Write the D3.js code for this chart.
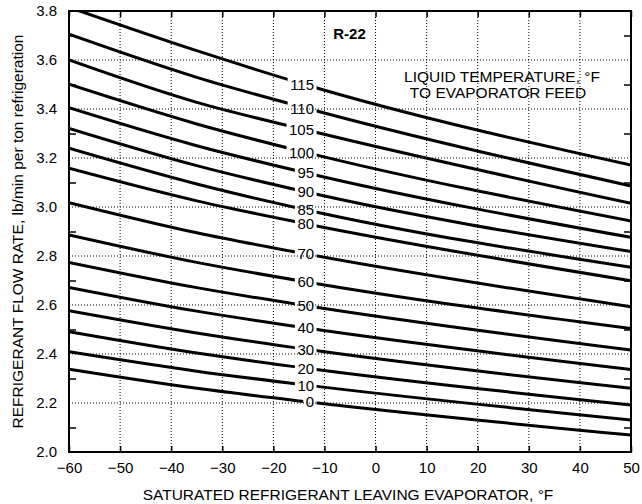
<!DOCTYPE html>
<html>
<head>
  <meta charset="utf8" />
  <style>
    body {
      margin: 0;
      background: #fff;
    }
    text {
      font-family: "Liberation Sans", Arial, sans-serif;
      fill: #000;
    }
    .grid line {
      stroke: #000;
      stroke-width: 1;
      stroke-dasharray: 1, 2;
    }
    .curve {
      fill: none;
      stroke: #000;
      stroke-width: 3;
    }
    .axis path {
      display: none;
    }
    .axis line {
      stroke: #000;
      stroke-width: 1.5;
    }
  </style>
</head>
<body>
  <script src="https://d3js.org/d3.v7.min.js"></script>

  <script>
    var evapTemps = [-60, -35, -13.5, 50];

    // liquid temperature to evaporator feed (°F), one curve each
    var flow0   = [2.338, 2.260, 2.205, 2.069];
    var flow10  = [2.409, 2.330, 2.273, 2.131];
    var flow20  = [2.491, 2.404, 2.342, 2.192];
    var flow30  = [2.577, 2.486, 2.419, 2.260];
    var flow40  = [2.672, 2.575, 2.506, 2.337];
    var flow50  = [2.774, 2.671, 2.597, 2.416];
    var flow60  = [2.886, 2.774, 2.694, 2.504];
    var flow70  = [3.018, 2.895, 2.808, 2.593];
    var flow80  = [3.158, 3.025, 2.931, 2.699];
    var flow85  = [3.240, 3.094, 2.988, 2.754];
    var flow90  = [3.321, 3.169, 3.061, 2.818];
    var flow95  = [3.405, 3.250, 3.139, 2.876];
    var flow100 = [3.501, 3.339, 3.222, 2.943];
    var flow105 = [3.600, 3.427, 3.314, 3.015];
    var flow110 = [3.705, 3.529, 3.403, 3.086];
    var flow115 = [3.815, 3.638, 3.498, 3.171];

    var xTicks = [-60, -50, -40, -30, -20, -10, 0, 10, 20, 30, 40, 50];
    var yTicks = [2.0, 2.2, 2.4, 2.6, 2.8, 3.0, 3.2, 3.4, 3.6, 3.8];
    var yMinorTicks = [2.1, 2.3, 2.5, 2.7, 2.9, 3.1, 3.3, 3.5, 3.7];

    var series = [
      {temp: 0, flow: flow0}, {temp: 10, flow: flow10}, {temp: 20, flow: flow20},
      {temp: 30, flow: flow30}, {temp: 40, flow: flow40}, {temp: 50, flow: flow50},
      {temp: 60, flow: flow60}, {temp: 70, flow: flow70}, {temp: 80, flow: flow80},
      {temp: 85, flow: flow85}, {temp: 90, flow: flow90}, {temp: 95, flow: flow95},
      {temp: 100, flow: flow100}, {temp: 105, flow: flow105},
      {temp: 110, flow: flow110}, {temp: 115, flow: flow115}
    ];
    var labelIndex = 2; // labels sit on the -13.5 °F point

    var width = 642,
        height = 504,
        margin = {top: 11, right: 11, bottom: 52, left: 69};

    var x = d3.scaleLinear().domain([-60, 50]).range([margin.left, width - margin.right]);
    var y = d3.scaleLinear().domain([2.0, 3.8]).range([height - margin.bottom, margin.top]);

    var fmtX = function(d) { return d < 0 ? "\u2212" + Math.abs(d) : String(d); };
    var fmtY = d3.format(".1f");

    var svg = d3.select("body").append("svg")
        .attr("width", width)
        .attr("height", height);

    var defs = svg.append("defs");
    defs.append("clipPath").attr("id", "plot")
      .append("rect")
        .attr("x", margin.left)
        .attr("y", margin.top)
        .attr("width", width - margin.left - margin.right)
        .attr("height", height - margin.top - margin.bottom);

    var mask = defs.append("mask")
        .attr("id", "gaps")
        .attr("maskUnits", "userSpaceOnUse")
        .attr("x", 0).attr("y", 0)
        .attr("width", width).attr("height", height);
    mask.append("rect").attr("width", width).attr("height", height).attr("fill", "#fff");

    // dotted grid
    var grid = svg.append("g").attr("class", "grid");
    grid.selectAll(".gx")
        .data(xTicks.slice(1, -1))
      .enter().append("line")
        .attr("x1", d => x(d)).attr("x2", d => x(d))
        .attr("y1", margin.top).attr("y2", height - margin.bottom);
    grid.selectAll(".gy")
        .data(yTicks.slice(1, -1))
      .enter().append("line")
        .attr("y1", d => y(d)).attr("y2", d => y(d))
        .attr("x1", margin.left).attr("x2", width - margin.right);

    // axes
    svg.append("g")
        .attr("class", "axis")
        .attr("transform", "translate(0," + (height - margin.bottom) + ")")
        .call(d3.axisBottom(x).tickValues(xTicks).tickFormat(fmtX).tickSize(-6).tickPadding(10))
        .selectAll("text").style("font-size", "15px");
    svg.append("g")
        .attr("class", "axis")
        .attr("transform", "translate(0," + margin.top + ")")
        .call(d3.axisTop(x).tickValues(xTicks).tickFormat("").tickSize(-6));
    svg.append("g")
        .attr("class", "axis")
        .attr("transform", "translate(" + margin.left + ",0)")
        .call(d3.axisLeft(y).tickValues(yTicks).tickFormat(fmtY).tickSize(0).tickPadding(12))
        .selectAll("text").style("font-size", "15px");
    svg.append("g")
        .attr("class", "axis")
        .attr("transform", "translate(" + margin.left + ",0)")
        .call(d3.axisLeft(y).tickValues(yMinorTicks).tickFormat("").tickSize(-7));
    svg.append("g")
        .attr("class", "axis")
        .attr("transform", "translate(" + (width - margin.right) + ",0)")
        .call(d3.axisRight(y).tickValues(yMinorTicks).tickFormat("").tickSize(-7));

    // curves
    var line = d3.line()
        .x((d, i) => x(evapTemps[i]))
        .y(d => y(d))
        .curve(d3.curveMonotoneX);

    svg.append("g")
        .attr("clip-path", "url(#plot)")
      .append("g")
        .attr("mask", "url(#gaps)")
      .selectAll("path")
        .data(series)
      .enter().append("path")
        .attr("class", "curve")
        .attr("d", d => line(d.flow));

    var labels = svg.append("g").selectAll("text")
        .data(series)
      .enter().append("text")
        .attr("x", x(evapTemps[labelIndex]) + 7.5)
        .attr("y", d => y(d.flow[labelIndex]))
        .attr("dy", "0.36em")
        .attr("text-anchor", "end")
        .style("font-size", "15px")
        .text(d => d.temp);

    labels.each(function() {
      var b = this.getBBox();
      mask.append("rect")
          .attr("x", b.x - 2.5)
          .attr("y", b.y)
          .attr("width", b.width + 5)
          .attr("height", b.height)
          .attr("fill", "#000");
    });

    // frame
    svg.append("rect")
        .attr("x", margin.left)
        .attr("y", margin.top)
        .attr("width", width - margin.left - margin.right)
        .attr("height", height - margin.top - margin.bottom)
        .attr("fill", "none")
        .attr("stroke", "#000")
        .attr("stroke-width", 2);

    // annotations
    svg.append("text")
        .attr("x", 349.5).attr("y", 39)
        .attr("text-anchor", "middle")
        .style("font-size", "15px")
        .style("font-weight", "bold")
        .text("R-22");
    svg.append("text")
        .attr("x", 502).attr("y", 82)
        .attr("text-anchor", "middle")
        .style("font-size", "15.5px")
        .text("LIQUID TEMPERATURE, °F");
    svg.append("text")
        .attr("x", 498).attr("y", 98)
        .attr("text-anchor", "middle")
        .style("font-size", "15.5px")
        .text("TO EVAPORATOR FEED");

    // axis titles
    svg.append("text")
        .attr("x", (margin.left + width - margin.right) / 2 - 2)
        .attr("y", 500)
        .attr("text-anchor", "middle")
        .style("font-size", "15.5px")
        .text("SATURATED REFRIGERANT LEAVING EVAPORATOR, °F");
    svg.append("text")
        .attr("transform", "translate(23," + ((margin.top + height - margin.bottom) / 2) + ") rotate(-90)")
        .attr("text-anchor", "middle")
        .style("font-size", "15.5px")
        .text("REFRIGERANT FLOW RATE, lb/min per ton refrigeration");
  </script>
</body>
</html>
